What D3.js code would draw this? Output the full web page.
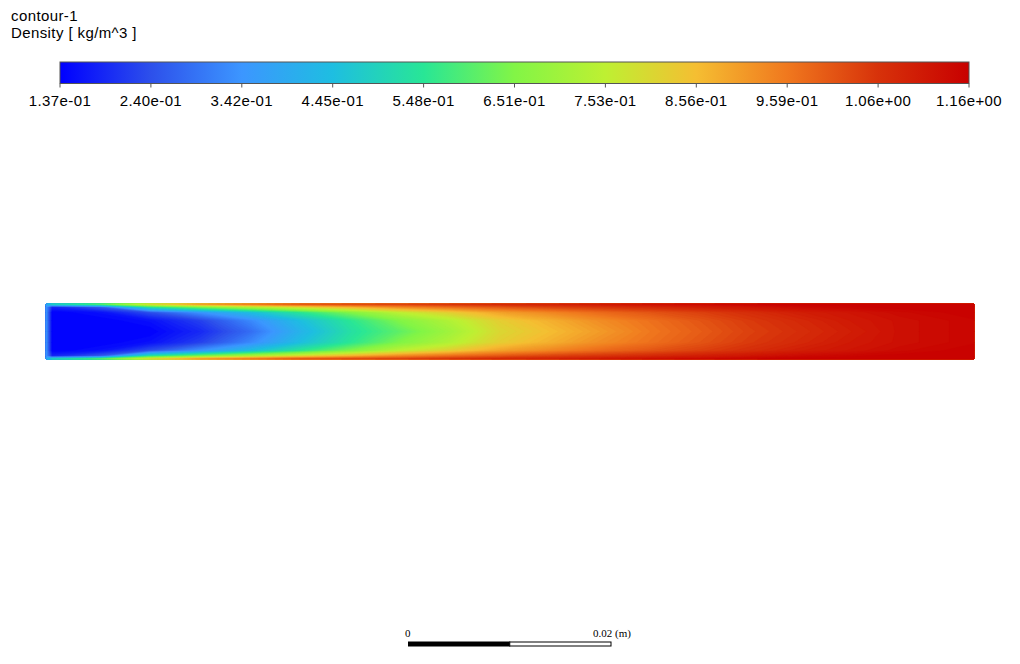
<!DOCTYPE html>
<html>
<head>
<meta charset="utf-8">
<script src="https://cdn.jsdelivr.net/npm/d3@7"></script>
<style>
  body { margin: 0; background: #fff; }
  svg { display: block; }
  .lbl { font-family: "Liberation Sans", Arial, sans-serif; font-size: 15px; letter-spacing: 0.4px; fill: #000; }
  .scl { font-family: "Liberation Serif", "Times New Roman", serif; font-size: 11px; fill: #000; }
</style>
</head>
<body>
<div id="chart"></div>
<script>
// colour bar
var tickLabels = ["1.37e-01", "2.40e-01", "3.42e-01", "4.45e-01", "5.48e-01", "6.51e-01",
                  "7.53e-01", "8.56e-01", "9.59e-01", "1.06e+00", "1.16e+00"];
var rhoMin = 0.137, rhoMax = 1.16;
var cmapColors = ["#0000ff", "#2d50eb", "#3c96ff", "#1ebee1", "#28e696", "#82f546",
                  "#bef032", "#f5be32", "#f0781e", "#d7320a", "#c80000"];

// density field: stations along the channel (pixel x of each station in the picture)
var stationX = [46, 52, 100, 150, 200, 250, 300, 350, 400, 450,
                500, 550, 600, 650, 700, 750, 800, 850, 900, 974];
// distance from wall as a fraction of the channel height (wall -> centreline)
var rowFrac = [0, 0.05, 0.15, 0.3, 0.5];
// density [kg/m^3] at each station, wall -> centreline
var profiles = [
  [0.393, 0.342, 0.342, 0.342, 0.342],
  [0.495, 0.188, 0.137, 0.137, 0.137],
  [0.597, 0.260, 0.157, 0.137, 0.137],
  [0.802, 0.546, 0.239, 0.157, 0.137],
  [0.904, 0.649, 0.342, 0.219, 0.188],
  [0.955, 0.730, 0.444, 0.321, 0.280],
  [1.007, 0.802, 0.546, 0.444, 0.413],
  [1.027, 0.874, 0.649, 0.546, 0.526],
  [1.037, 0.935, 0.751, 0.649, 0.608],
  [1.058, 0.976, 0.822, 0.730, 0.700],
  [1.078, 1.007, 0.894, 0.822, 0.802],
  [1.088, 1.037, 0.935, 0.874, 0.853],
  [1.109, 1.058, 0.976, 0.925, 0.904],
  [1.129, 1.078, 1.007, 0.966, 0.955],
  [1.140, 1.099, 1.037, 1.007, 0.996],
  [1.150, 1.119, 1.068, 1.047, 1.037],
  [1.160, 1.140, 1.099, 1.078, 1.068],
  [1.160, 1.150, 1.119, 1.109, 1.099],
  [1.160, 1.160, 1.140, 1.129, 1.129],
  [1.160, 1.160, 1.160, 1.150, 1.150]
];

var width = 1020, height = 664;

var svg = d3.select("#chart").append("svg")
  .attr("width", width)
  .attr("height", height);

// ---- titles
svg.append("text").attr("class", "lbl").attr("x", 11).attr("y", 20.5).text("contour-1");
svg.append("text").attr("class", "lbl").attr("x", 11).attr("y", 37.5).text("Density [ kg/m^3 ]");

// ---- colour map
var stopVals = cmapColors.map(function(c, i) { return rhoMin + i * (rhoMax - rhoMin) / (cmapColors.length - 1); });
var color = d3.scaleLinear().domain(stopVals).range(cmapColors).interpolate(d3.interpolateRgb).clamp(true);

var barX = d3.scaleLinear().domain([0, tickLabels.length - 1]).range([60, 969]);
var barTop = 62, barH = 21.5;

var grad = svg.append("defs").append("linearGradient")
  .attr("id", "cbar").attr("x1", "0%").attr("x2", "100%").attr("y1", "0%").attr("y2", "0%");
grad.selectAll("stop").data(cmapColors).enter().append("stop")
  .attr("offset", function(d, i) { return (100 * i / (cmapColors.length - 1)) + "%"; })
  .attr("stop-color", function(d) { return d; });

svg.append("rect")
  .attr("x", barX(0)).attr("y", barTop)
  .attr("width", barX(tickLabels.length - 1) - barX(0)).attr("height", barH)
  .attr("fill", "url(#cbar)")
  .attr("stroke", "#555").attr("stroke-width", 1);

var ticks = svg.append("g").selectAll("g").data(tickLabels).enter().append("g")
  .attr("transform", function(d, i) { return "translate(" + barX(i) + ",0)"; });
ticks.append("line")
  .attr("y1", barTop + barH).attr("y2", barTop + barH + 4)
  .attr("stroke", "#555").attr("stroke-width", 1);
ticks.append("text").attr("class", "lbl")
  .attr("y", 106).attr("text-anchor", "middle")
  .text(function(d) { return d; });

// ---- density field
var stripTop = 304, stripBot = 359;
var rows = rowFrac.concat(rowFrac.slice(0, -1).reverse().map(function(f) { return 1 - f; }));
var nx = stationX.length, ny = rows.length;
var grid = new Array(nx * ny);
for (var j = 0; j < ny; j++) {
  var k = j < rowFrac.length ? j : ny - 1 - j;
  for (var i = 0; i < nx; i++) grid[j * nx + i] = profiles[i][k];
}

var xDom = [0], xRng = [stationX[0]];
stationX.forEach(function(x, i) { xDom.push(i + 0.5); xRng.push(x); });
xDom.push(nx); xRng.push(stationX[nx - 1]);
var yDom = [0], yRng = [stripTop];
rows.forEach(function(f, j) { yDom.push(j + 0.5); yRng.push(stripTop + f * (stripBot - stripTop)); });
yDom.push(ny); yRng.push(stripBot);

var xScale = d3.scaleLinear().domain(xDom).range(xRng);
var yScale = d3.scaleLinear().domain(yDom).range(yRng);

var nLevels = 120;
var step = (rhoMax - rhoMin) / nLevels;
var thresholds = d3.range(nLevels).map(function(i) { return rhoMin + i * step; });
var bands = d3.contours().size([nx, ny]).thresholds(thresholds)(grid);

var proj = d3.geoTransform({
  point: function(x, y) { this.stream.point(xScale(x), yScale(y)); }
});
var path = d3.geoPath(proj);

svg.append("g").selectAll("path").data(bands).enter().append("path")
  .attr("d", path)
  .attr("fill", function(d) { return color(d.value + step / 2); })
  .attr("stroke", function(d) { return color(d.value + step / 2); })
  .attr("stroke-width", 0.3);

// ---- length scale
var lenScale = d3.scaleLinear().domain([0, 0.02]).range([408.5, 611]);
svg.append("rect")
  .attr("x", lenScale(0)).attr("y", 642)
  .attr("width", lenScale(0.01) - lenScale(0)).attr("height", 4)
  .attr("fill", "#000").attr("stroke", "#000").attr("stroke-width", 1);
svg.append("rect")
  .attr("x", lenScale(0.01)).attr("y", 642)
  .attr("width", lenScale(0.02) - lenScale(0.01)).attr("height", 4)
  .attr("fill", "#fff").attr("stroke", "#000").attr("stroke-width", 1);
svg.append("text").attr("class", "scl").attr("x", lenScale(0) - 3.5).attr("y", 637).text("0");
svg.append("text").attr("class", "scl").attr("x", lenScale(0.02) + 20).attr("y", 637)
  .attr("text-anchor", "end").text("0.02 (m)");
</script>
</body>
</html>
